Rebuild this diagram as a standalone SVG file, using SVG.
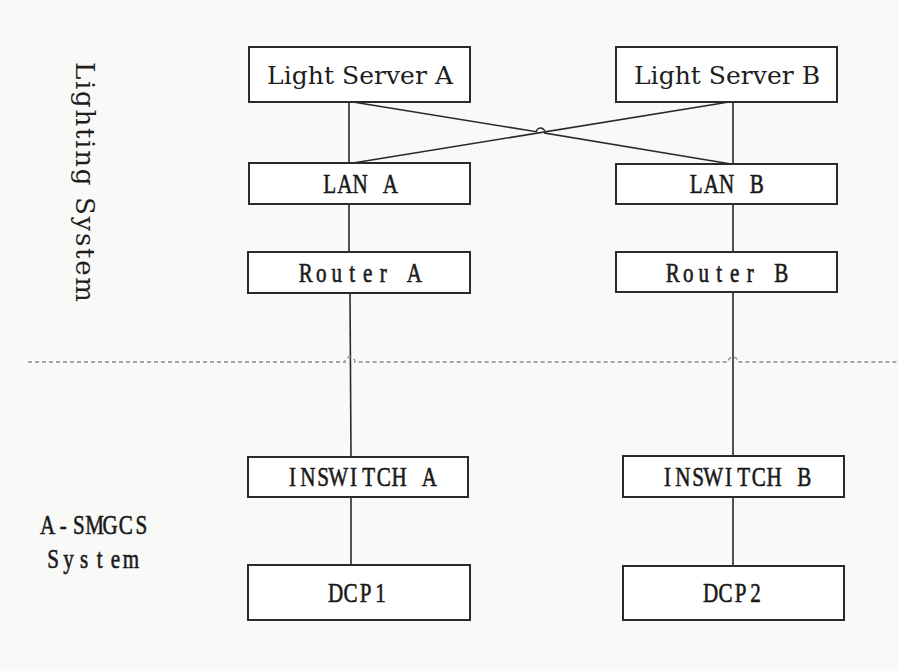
<svg xmlns="http://www.w3.org/2000/svg" width="899" height="671" viewBox="0 0 899 671">
<style>
.box{fill:#ffffff;stroke:#2a2a2a;stroke-width:2}
.ln{fill:none;stroke:#2a2a2a;stroke-width:1.6}
.dash{fill:none;stroke:#8a8a8a;stroke-width:1.4;stroke-dasharray:4 3}
.mono{font-family:"Liberation Serif","DejaVu Serif",serif;font-size:27px;fill:#1a1a1a;text-anchor:middle;stroke:#1a1a1a;stroke-width:0.6}
.serif{font-family:"DejaVu Serif","Liberation Serif",serif;font-size:25px;fill:#1e1e1e;text-anchor:middle}
.side{font-family:"DejaVu Serif","Liberation Serif",serif;font-size:26px;fill:#1e1e1e;text-anchor:middle}
</style>
<rect x="0" y="0" width="899" height="671" fill="#f9f9f8"/>

<g id="connectors">
  <line class="ln" x1="349" y1="102" x2="349" y2="163"/>
  <line class="ln" x1="349" y1="204" x2="349" y2="252"/>
  <line class="ln" x1="350" y1="293" x2="351" y2="457"/>
  <line class="ln" x1="351" y1="497" x2="351" y2="565"/>
  <line class="ln" x1="733" y1="102" x2="733" y2="164"/>
  <line class="ln" x1="733" y1="204" x2="733" y2="252"/>
  <line class="ln" x1="733" y1="292" x2="733" y2="456"/>
  <line class="ln" x1="733" y1="497" x2="733" y2="566"/>
  <line class="ln" x1="729" y1="102" x2="353" y2="163"/>
  <path class="ln" d="M353 102 L536.3 131.7 A4.3 4.3 0 0 1 544.8 133.1 L731 164"/>
  <path class="dash" d="M28 362 H345 A5 5 0 0 1 355 362 H728 A5 5 0 0 1 738 362 H899"/>
</g>

<g id="light-server-a"><rect class="box" x="249" y="47" width="221" height="55"/><text class="serif" x="360" y="84" textLength="186">Light Server A</text></g>
<g id="light-server-b"><rect class="box" x="616" y="47" width="221" height="55"/><text class="serif" x="727" y="84" textLength="186">Light Server B</text></g>
<g id="lan-a"><rect class="box" x="249" y="163" width="221" height="41"/><text class="mono" transform="scale(0.78 1)" x="422.56 442.05 461.54 481.03 500.51" y="193">LAN A</text></g>
<g id="lan-b"><rect class="box" x="616" y="164" width="221" height="40"/><text class="mono" transform="scale(0.78 1)" x="892.44 911.92 931.41 950.90 970.38" y="193">LAN B</text></g>
<g id="router-a"><rect class="box" x="248" y="252" width="222" height="41"/><text class="mono" transform="scale(0.78 1)" x="391.99 411.86 431.73 451.60 471.47 491.35 511.22 531.09" y="282">Router A</text></g>
<g id="router-b"><rect class="box" x="616" y="252" width="221" height="40"/><text class="mono" transform="scale(0.78 1)" x="862.50 882.37 902.24 922.12 941.99 961.86 981.73 1001.60" y="282">Router B</text></g>
<g id="inswitch-a"><rect class="box" x="248" y="457" width="220" height="40"/><text class="mono" transform="scale(0.78 1)" x="375.13 394.62 414.10 433.59 453.08 472.56 492.05 511.54 531.03 550.51" y="486">INSWITCH A</text></g>
<g id="inswitch-b"><rect class="box" x="623" y="456" width="221" height="41"/><text class="mono" transform="scale(0.78 1)" x="855.90 875.38 894.87 914.36 933.85 953.33 972.82 992.31 1011.79 1031.28" y="486">INSWITCH B</text></g>
<g id="dcp1"><rect class="box" x="248" y="565" width="222" height="55"/><text class="mono" transform="scale(0.78 1)" x="430.13 449.36 468.59 487.82" y="602">DCP1</text></g>
<g id="dcp2"><rect class="box" x="623" y="566" width="221" height="54"/><text class="mono" transform="scale(0.78 1)" x="910.90 930.13 949.36 968.59" y="602">DCP2</text></g>

<g id="lighting-system-label"><text class="side" x="182" y="-76" transform="rotate(90)" textLength="240">Lighting System</text></g>
<g id="asmgcs-label">
  <text class="mono" transform="scale(0.78 1)" x="61.15 81.15 101.15 121.15 141.15 161.15 181.15" y="534">A-SMGCS</text>
  <text class="mono" transform="scale(0.78 1)" x="67.95 87.95 107.95 127.95 147.95 167.95" y="568">System</text>
</g>
</svg>
